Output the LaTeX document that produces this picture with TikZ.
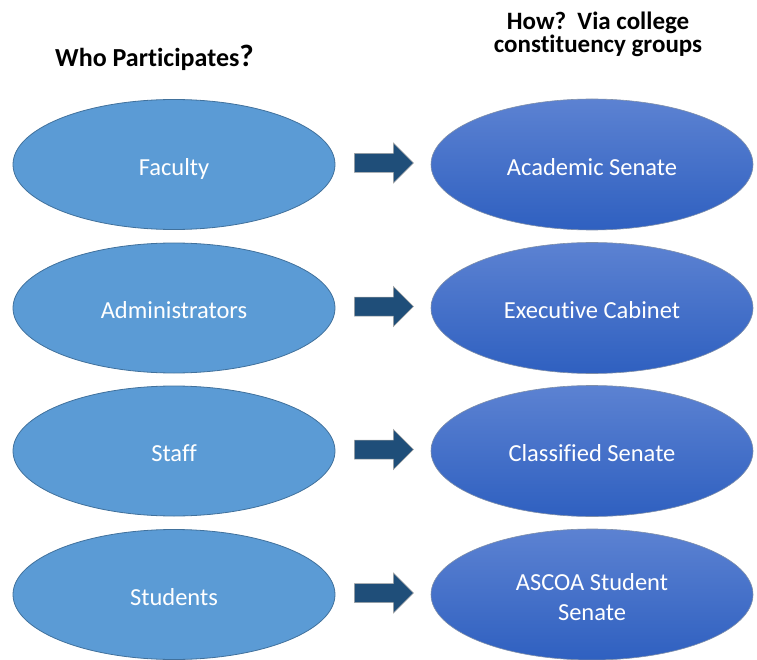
\documentclass[tikz,border=0pt]{standalone}
\usepackage{fontspec}
\setmainfont{Carlito}[Ligatures={NoCommon}]
\usetikzlibrary{shapes.geometric,calc}
\definecolor{leftfill}{HTML}{5B9BD5}
\definecolor{leftline}{HTML}{41719C}
\definecolor{rtop}{HTML}{5C82D2}
\definecolor{rbot}{HTML}{2F60C0}
\definecolor{rline}{HTML}{7F8FA9}
\definecolor{arrowfill}{HTML}{1F4E79}
\definecolor{arrowline}{HTML}{A6A6A6}
\tikzset{
  ellbase/.style={ellipse, minimum width=322pt, inner sep=0pt,
    text=white, font=\fontsize{24.5}{30}\selectfont, align=center,
    text height=26pt, text depth=4.6pt},
  whoell/.style={ellbase, draw=leftline, line width=0.8pt, fill=leftfill,
    minimum height=130pt},
  grpell/.style={ellbase, draw=rline, line width=0.6pt, top color=rtop, bottom color=rbot,
    minimum height=131pt},
  hdr/.style={font=\bfseries\fontsize{25}{24}\selectfont, inner sep=0pt, anchor=base},
  blockarrow/.style={fill=arrowfill, draw=arrowline, line width=0.5pt}
}
\begin{document}
\begin{tikzpicture}[x=1pt,y=1pt]
\useasboundingbox (0,0) rectangle (757,-660);
\node[hdr, font=\bfseries\fontsize{26}{24}\selectfont] (hdrL) at (154.5,-67) {Who Participates{\fontsize{31}{24}\selectfont ?}};
\node[hdr] (hdrR1) at (598,-29.5) {How?\ \ Via college};
\node[hdr] (hdrR2) at (598,-52.7) {constituency groups};

\node[whoell] (w1) at (174,-164.5) {Faculty};
\node[whoell] (w2) at (174,-308) {Administrators};
\node[whoell] (w3) at (174,-451) {Staff};
\node[whoell] (w4) at (174,-594.5) {Students};

\node[grpell] (g1) at (592,-164.5) {Academic Senate};
\node[grpell] (g2) at (592,-308) {Executive Cabinet};
\node[grpell] (g3) at (592,-451) {Classified Senate};
\node[grpell, text height=55.6pt] (g4) at (592,-594.5) {ASCOA Student\\Senate};

\foreach \i in {1,2,3,4}{
  \path (w\i.east) ++(19,1.5) coordinate (a\i);
  \draw[blockarrow] (a\i) ++(0,9.5) -- ++(39,0) -- ++(0,10.5) -- ++(20,-20)
     -- ++(-20,-20) -- ++(0,10.5) -- ++(-39,0) -- cycle;
}
\end{tikzpicture}
\end{document}
